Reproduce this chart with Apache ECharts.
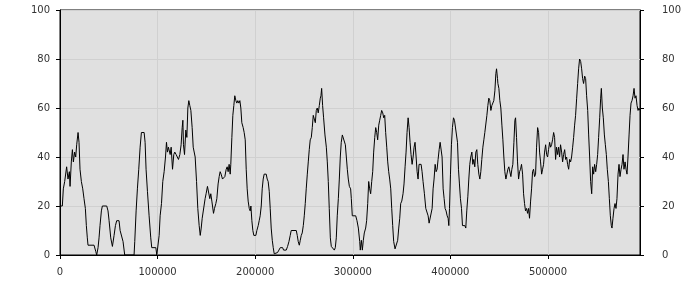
<!DOCTYPE html>
<html>
<head>
<meta charset="utf-8">
<script src="https://cdn.jsdelivr.net/npm/echarts@6/dist/echarts.min.js"></script>
<style>html,body{margin:0;padding:0;background:#fff}#c{width:700px;height:300px}</style>
</head>
<body>
<div id="c"></div>
<script>
const xValues = [
0,2400,3400,4800,6800,8200,9600,10300,11600,12700,13700,15000,16100,17100,18500,19500,20500,21900,23300,24600,26000,27000,28000,28700,34900,36600,37600,39000,40000,41000,42400,43400,47900,49200,50300,52000,53700,55400,56800,58100,60500,61600,63300,64600,66300,75900,76600,78000,79300,80700,82100,83400,86200,87200,88200,89600,91300,93000,94000,98200,99200,100500,101600,102600,104000,105300,106700,108100,109100,110100,111100,112900,113900,115300,116600,117600,119000,120400,121400,122800,124100,125200,125900,126500,127600,128900,130000,131000,132000,133000,134100,135400,136500,137500,138500,139900,141200,142600,143700,144700,145700,147100,
148700,149700,151100,152500,153500,154500,155600,156600,157300,158300,159700,160700,162000,163100,164100,165100,166500,167900,168900,170300,171300,172300,173300,174400,175000,176100,177100,178100,179100,180200,181200,182200,183300,184300,185300,186300,187700,188700,189800,190800,191800,192800,193900,194900,195600,196600,197600,198600,200700,201700,203100,204100,205100,206200,207200,208200,209200,211300,212300,213300,214400,215400,216400,217500,218500,219500,220500,222900,224300,225700,228100,229100,231800,233200,234600,235900,236900,242100,243100,244100,245200,246200,247200,248200,249300,250300,251300,252300,253400,254400,255400,256400,257500,258500,259500,260500,261600,262600,263600,264600,265700,266700,267400,268100,269100,270100,271500,272900,273900,274900,275900,277000,278000,280000,281100,282100,283100,284100,285200,286200,287200,288200,289300,291300,292400,293400,294400,295400,296500,297800,
298500,299500,303000,304300,305700,307100,307700,308800,309800,310800,311800,313200,314200,315300,316300,317300,318300,319400,320400,321400,322500,323500,324500,325500,326600,327600,328600,329600,330700,331700,332700,333700,334800,335800,336800,337800,338900,339900,340900,341900,343300,345000,346000,347100,348100,349100,350200,351500,352500,353600,354600,355600,356700,357700,358700,359700,360800,361800,362800,363800,364900,365900,366900,367900,370000,371000,372000,373400,374800,376100,377200,378200,380200,381300,382300,383300,384400,385400,386400,387400,388500,389500,390500,391500,392600,393600,394600,395600,396700,397700,398400,399100,400100,401100,402100,403200,404200,405200,406200,407300,408300,409300,410300,411400,412400,413400,414800,415800,416800,417900,418900,419900,420900,422000,423000,424000,425000,426100,427100,428100,429200,430200,431200,432200,433300,434300,435300,436300,437400,438400,439400,440400,441500,442500,443500,444500,445600,446600,447300,448300,
448700,449700,450700,451700,452800,453800,454800,455800,456900,457900,458900,459900,461000,462000,463000,464000,465100,466100,466800,467800,468800,469900,470900,471900,472900,474000,475000,476000,477000,478100,479100,480100,481100,482200,483200,484200,485200,486300,487300,488300,489400,490400,491400,492400,493500,494500,495500,496500,497600,498600,499600,500600,501700,502700,503700,504700,505800,506800,507800,508800,509900,510900,511900,512900,514000,515000,516000,517100,518100,519100,520100,521200,522200,523200,524200,525300,526300,527300,528300,529400,530400,531400,532400,533500,534500,535500,536500,537600,538600,539600,540700,541700,542700,543700,544800,545800,546800,547800,548900,549900,550900,551900,553000,554000,554700,555700,556700,557800,558800,559800,560800,561900,562900,563900,564900,565600,566600,567700,568700,569700,570700,571800,572800,573800,574900,575900,576900,577900,579000,580000,581000,582000,583100,584100,585100,586100,587200,588200,589200,590200,591300,592300,593300,594300
];
const yValues = [
20,20,27,30,36,31,34,28,38,43,38,42,40,45,50,46,35,30,27,23,19,12,7,4,4,1.5,0,3,7,12,18,20,20,18,14,7,3.5,8,12,14,14,10,10,5.5,0,0,5.5,18,27,35,44,50,50,46,35,26,16,7,3,3,0,0,8,16,21,30,34,40,46,42,44,41,44,35,41,42,41,41,39,41,45,52,55,45,41,51,48,60,63,61,59,52,44,44,40,30,19,12,8,11,15,15,
23,25,28,28,23,25,22,22,17,19,21,23,29,32,34,33,31,31,32,35,36,34,37,33,37,48,57,61,65,63,62,63,62,63,60,54,52,50,47,35,27,22,19,18,20,14,10,8,8,10,12,14,16,20,27,31,33,33,31,30,26,19,11,6,3,0.5,1,1,2,3,3,2,2,3.5,5.5,8,10,10,8,5.5,4,6,8,9,12,16,21,27,33,38,43,47,48,52,57,57,54,59,60,58,61,64,65,68,61,56,49,44,38,30,19,7,3.5,3.5,2,3,7,16,23,31,40,46,49,49,45,40,35,31,28,27,
23,16,16,14,11,5.5,2,6,2,6,9,11,14,21,30,27,25,30,34,42,48,52,50,47,53,55,57,59,58,56,57,50,44,38,34,31,27,19,12,5.5,2.5,2.5,6,11,15,21,22,25,29,36,42,50,56,52,46,41,37,40,44,46,40,34,31,37,37,34,30,25,19,19,16,13,13,19,27,31,37,34,35,39,43,46,46,40,27,23,19,18,16,15,12,19,33,45,52,56,55,55,55,46,35,29,23,19,12,12,12,11,18,24,31,37,40,42,37,39,36,42,43,37,33,31,34,39,44,47,50,50,57,61,64,63,59,61,61,63,67,74,76,72,
70,68,63,60,53,47,40,34,31,33,35,36,36,32,35,37,46,55,56,48,38,31,34,35,37,33,25,21,18,19,17,19,15,22,27,34,35,32,33,44,52,50,42,38,33,35,37,42,45,41,40,43,46,44,45,47,50,48,39,44,41,44,40,45,42,38,41,43,39,40,37,35,39,38,40,44,48,53,57,64,70,76,80,79,76,72,70,73,72,65,59,49,40,30,25,36,33,37,34,37,41,48,56,64,68,60,56,49,45,41,35,30,23,16,12,11,15,19,21,19,23,33,37,32,35,37,41,35,38,35,33,40,49,57,62,63,65,68,64,65,61,59,60,59
];
const yTicks = [0, 20, 40, 60, 80, 100];
const xTickStep = 100000;

const data = xValues.map((x, i) => [x, yValues[i]]);
const font = { fontFamily: 'DejaVu Sans', fontSize: 10, color: '#333' };

const chart = echarts.init(document.getElementById('c'), null, { renderer: 'canvas' });
chart.setOption({
  animation: false,
  grid: {
    left: 60, right: 60, top: 10, bottom: 45,
    show: true, backgroundColor: '#e0e0e0', borderColor: '#000', borderWidth: 1
  },
  xAxis: {
    type: 'value', min: 0, max: xValues[xValues.length - 1], interval: xTickStep,
    axisLine: { lineStyle: { color: '#000', width: 1 } },
    axisTick: { show: true, length: 4, lineStyle: { color: '#000' } },
    axisLabel: Object.assign({ margin: 12, showMaxLabel: false, formatter: v => String(v) }, font),
    splitLine: { show: true, lineStyle: { color: '#d0d0d0', width: 1 } }
  },
  yAxis: [
    {
      type: 'value', position: 'left', min: yTicks[0], max: yTicks[yTicks.length - 1], interval: 20,
      axisLine: { show: true, lineStyle: { color: '#000' } },
      axisTick: { show: true, length: 4, lineStyle: { color: '#000' } },
      axisLabel: Object.assign({ margin: 10 }, font),
      splitLine: { show: true, lineStyle: { color: '#d0d0d0', width: 1 } }
    },
    {
      type: 'value', position: 'right', min: yTicks[0], max: yTicks[yTicks.length - 1], interval: 20,
      axisLine: { show: true, lineStyle: { color: '#000' } },
      axisTick: { show: true, length: 4, lineStyle: { color: '#000' } },
      axisLabel: Object.assign({ margin: 22 }, font),
      splitLine: { show: false }
    }
  ],
  series: [{
    type: 'line', data: data, yAxisIndex: 0,
    showSymbol: false, symbol: 'none',
    lineStyle: { color: '#000', width: 1 },
    silent: true
  }]
});
</script>
</body>
</html>
